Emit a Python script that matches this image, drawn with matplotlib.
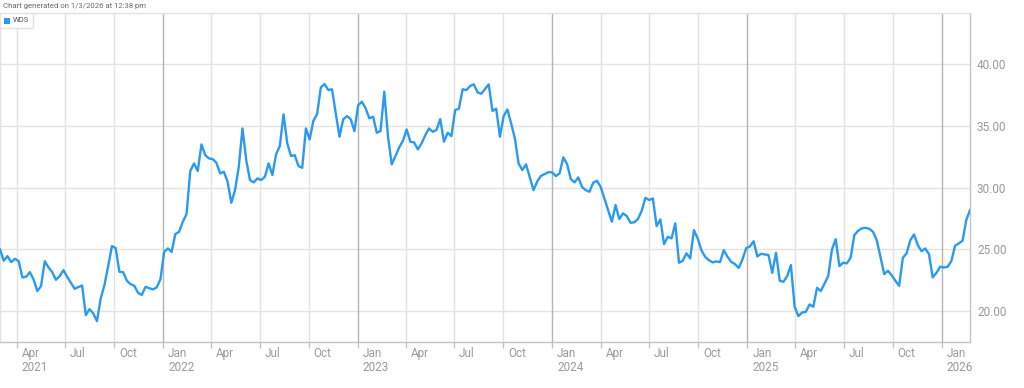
import matplotlib
matplotlib.use("Agg")
import matplotlib.pyplot as plt
import matplotlib.transforms as mtransforms
import pandas as pd
from matplotlib.patches import Rectangle

plt.rcParams['font.family'] = ['Roboto', 'DejaVu Sans']

series_name = "WDS"
start_date = "2021-03-01"
wds = [
    25.0, 24.08, 24.46, 23.97, 24.24, 24.05, 22.73, 22.78, 23.16, 22.57,
    21.62, 22.03, 24.05, 23.54, 23.16, 22.54, 22.84, 23.32, 22.78, 22.29,
    21.81, 21.95, 22.08, 19.68, 20.16, 19.81, 19.19, 21.03, 22.11, 23.65,
    25.27, 25.11, 23.19, 23.16, 22.46, 22.19, 22.05, 21.48, 21.3, 21.97,
    21.86, 21.76, 21.92, 22.57, 24.8, 25.08, 24.8, 26.24, 26.43, 27.24,
    27.86, 31.35, 31.97, 31.35, 33.5, 32.64, 32.37, 32.32, 32.02, 31.16,
    31.29, 30.48, 28.78, 29.8, 31.69, 34.8, 32.24, 30.62, 30.43, 30.75,
    30.62, 30.88, 31.97, 31.02, 32.7, 33.37, 35.94, 33.59, 32.56, 32.64,
    31.75, 31.61, 34.8, 33.91, 35.42, 35.96, 38.13, 38.4, 37.91, 37.97,
    36.02, 34.13, 35.54, 35.8, 35.55, 34.59, 36.69, 36.96, 36.43, 35.62,
    35.75, 34.45, 34.59, 37.77, 34.13, 31.89, 32.56, 33.26, 33.8, 34.72,
    33.72, 33.67, 33.1, 33.59, 34.26, 34.8, 34.53, 34.67, 35.56, 33.72,
    34.45, 34.18, 36.29, 36.4, 37.97, 37.91, 38.23, 38.37, 37.72, 37.61,
    37.99, 38.37, 36.21, 36.4, 34.13, 35.8, 36.34, 35.21, 34.0, 31.97,
    31.43, 31.89, 30.83, 29.8, 30.5, 30.96, 31.1, 31.26, 31.24, 30.94,
    31.16, 32.46, 31.91, 30.7, 30.43, 30.83, 30.07, 29.8, 29.67, 30.4,
    30.56, 30.07, 29.13, 28.18, 27.24, 28.59, 27.46, 27.92, 27.7, 27.16,
    27.19, 27.46, 28.13, 29.18, 29.0, 29.13, 26.89, 27.43, 25.43, 26.02,
    25.89, 27.11, 23.92, 24.08, 24.68, 24.27, 26.56, 25.89, 24.94, 24.4,
    24.13, 23.95, 24.03, 23.97, 24.94, 24.4, 24.0, 23.81, 23.5, 24.17,
    25.1, 25.24, 25.66, 24.43, 24.65, 24.59, 24.54, 23.1, 24.73, 22.46,
    22.38, 22.84, 23.73, 20.35, 19.6, 19.89, 19.94, 20.54, 20.35, 21.89,
    21.62, 22.24, 22.84, 25.0, 25.83, 23.65, 23.92, 23.87, 24.32, 26.16,
    26.51, 26.7, 26.75, 26.67, 26.43, 25.75, 24.4, 23.0, 23.27, 22.92,
    22.46, 22.05, 24.32, 24.68, 25.75, 26.21, 25.35, 24.86, 25.08, 24.62,
    22.73, 23.1, 23.59, 23.54, 23.59, 24.05, 25.3, 25.49, 25.7, 27.37,
    28.18,
]
tick_dates = ["2021-04-01", "2021-07-01", "2021-10-01", "2022-01-01", "2022-04-01",
              "2022-07-01", "2022-10-01", "2023-01-01", "2023-04-01", "2023-07-01",
              "2023-10-01", "2024-01-01", "2024-04-01", "2024-07-01", "2024-10-01",
              "2025-01-01", "2025-04-01", "2025-07-01", "2025-10-01", "2026-01-01"]
tick_labels = ["Apr\n2021", "Jul", "Oct", "Jan\n2022", "Apr", "Jul", "Oct", "Jan\n2023",
               "Apr", "Jul", "Oct", "Jan\n2024", "Apr", "Jul", "Oct", "Jan\n2025",
               "Apr", "Jul", "Oct", "Jan\n2026"]
y_ticks = [20, 25, 30, 35, 40]
y_labels = ["20.00", "25.00", "30.00", "35.00", "40.00"]
title_text = "Chart generated on 1/3/2026 at 12:38 pm"

dates = pd.date_range(start_date, periods=len(wds), freq="7D")

fig = plt.figure(figsize=(10.24, 3.88), dpi=100)
ax = fig.add_axes([0.0, 1 - 342 / 388, 970 / 1024, (342 - 13) / 388])

light = "#e3e3e3"
dark = "#b4b4b4"
for y in y_ticks:
    ax.axhline(y, color=light, lw=1.0, zorder=1)
tds = pd.to_datetime(tick_dates)
for d, lab in zip(tds, tick_labels):
    ax.axvline(d, color=dark if d.month == 1 else light, lw=1.0, zorder=1)

ax.plot(dates, wds, color="#2a9af0", lw=1.7, zorder=3, solid_joinstyle="round")

ax.set_xlim(dates[0], dates[-1])
ax.set_ylim(17.5, 44.15)

for s in ["left", "top"]:
    ax.spines[s].set_color(light)
    ax.spines[s].set_linewidth(1.0)
for s in ["bottom", "right"]:
    ax.spines[s].set_color("#c4c4c4")
    ax.spines[s].set_linewidth(1.0)

ax.set_xticks(tds)
ax.set_xticklabels([])
ax.tick_params(axis="x", length=4, color="#c4c4c4", width=1)
ax.yaxis.tick_right()
ax.set_yticks(y_ticks)
ax.set_yticklabels(y_labels, color="#9a9a9a", fontsize=8.5)
ax.tick_params(axis="y", length=0, pad=5)

trans = mtransforms.blended_transform_factory(ax.transData, ax.transAxes)
offset = mtransforms.ScaledTranslation(5 / 100, 0, fig.dpi_scale_trans)
for d, lab in zip(tds, tick_labels):
    ax.text(d, -0.014, lab, transform=trans + offset, ha="left", va="top",
            color="#9a9a9a", fontsize=8.5, linespacing=1.1)

fig.text(3 / 1024, 1 - 6 / 388, title_text, ha="left", va="center",
         color="#6a6a6a", fontsize=5.6)

# legend box
ax.add_patch(Rectangle((0.0, 1 - 15 / 329), 33 / 970, 15 / 329, transform=ax.transAxes,
                       facecolor="white", edgecolor=light, lw=1.0, zorder=4))
ax.add_patch(Rectangle((4 / 970, 1 - 10.5 / 329), 6 / 970, 6 / 329, transform=ax.transAxes,
                       facecolor="#2a9af0", edgecolor="none", zorder=5))
ax.text(13 / 970, 1 - 6.5 / 329, series_name, transform=ax.transAxes, ha="left",
        va="center", fontsize=5.5, color="#555555", zorder=5)

fig.savefig("out.png", dpi=100)
